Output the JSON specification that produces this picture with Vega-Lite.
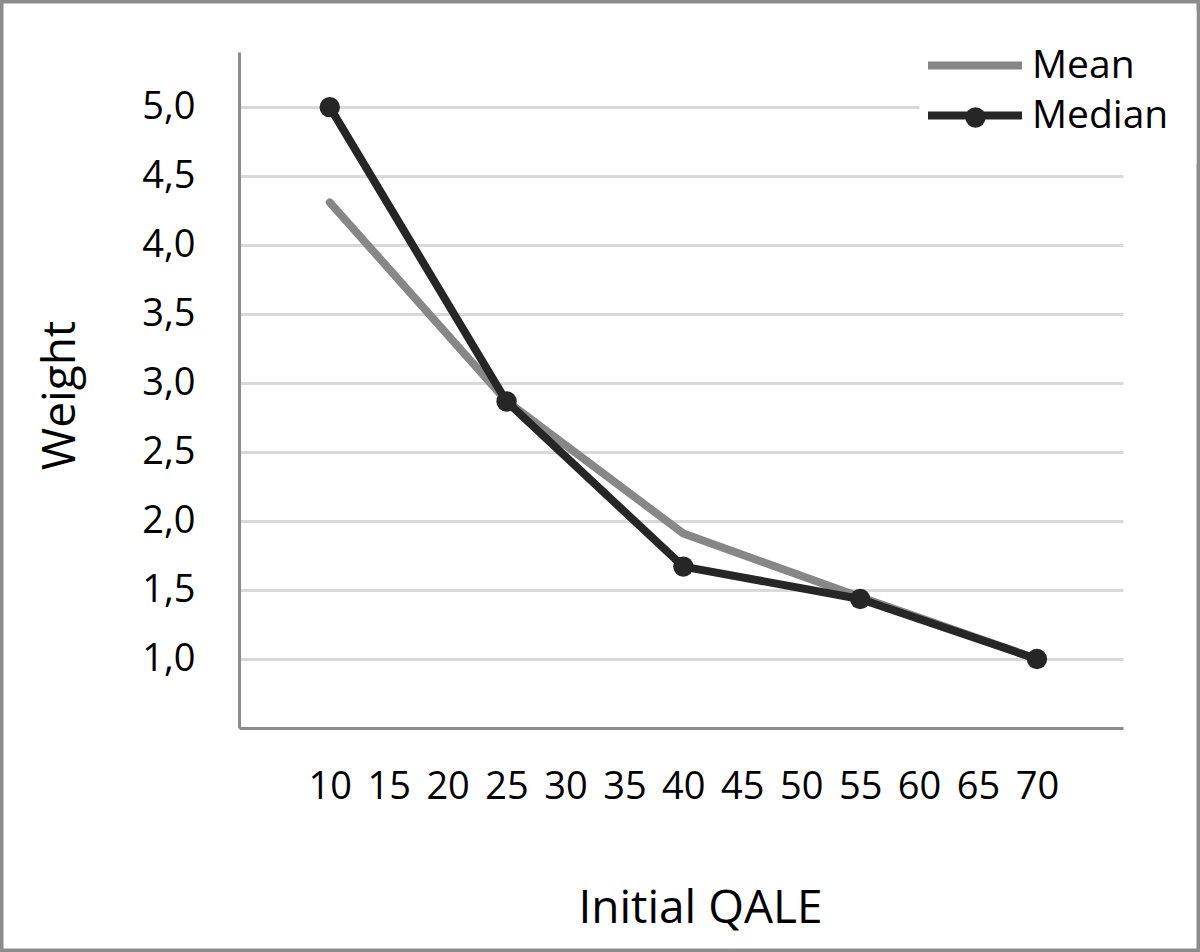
{
  "$schema": "https://vega.github.io/schema/vega-lite/v6.json",
  "width": 1200,
  "height": 952,
  "autosize": "none",
  "padding": 0,
  "background": "white",
  "config": {
    "font": "Open Sans",
    "view": {"stroke": "#8c8c8c", "strokeWidth": 7}
  },
  "data": {
    "values": [
      {"series": "Mean", "qale": 10, "weight": 4.31},
      {"series": "Mean", "qale": 25, "weight": 2.87},
      {"series": "Mean", "qale": 40, "weight": 1.91},
      {"series": "Mean", "qale": 55, "weight": 1.45},
      {"series": "Mean", "qale": 70, "weight": 1.0},
      {"series": "Median", "qale": 10, "weight": 5.0},
      {"series": "Median", "qale": 25, "weight": 2.867},
      {"series": "Median", "qale": 40, "weight": 1.67},
      {"series": "Median", "qale": 55, "weight": 1.435},
      {"series": "Median", "qale": 70, "weight": 1.0}
    ]
  },
  "encoding": {
    "x": {
      "field": "qale",
      "type": "quantitative",
      "scale": {"domain": [2.3, 77.3], "range": [239, 1123], "nice": false, "zero": false},
      "axis": {
        "orient": "bottom",
        "offset": -224,
        "values": [10, 15, 20, 25, 30, 35, 40, 45, 50, 55, 60, 65, 70],
        "grid": false,
        "ticks": false,
        "domainColor": "#8c8c8c",
        "domainWidth": 3,
        "labelFontSize": 38,
        "labelColor": "#000000",
        "labelPadding": 40,
        "labelFlush": false,
        "labelOverlap": false,
        "title": "Initial QALE",
        "titleFontSize": 46,
        "titleFontWeight": "normal",
        "titleColor": "#000000",
        "titleX": 700,
        "titleY": 180,
        "titleBaseline": "middle",
        "titleAnchor": null
      }
    },
    "y": {
      "field": "weight",
      "type": "quantitative",
      "scale": {"domain": [0.5, 5.4], "range": [728, 52], "nice": false, "zero": false},
      "axis": {
        "orient": "left",
        "offset": -239,
        "values": [1, 1.5, 2, 2.5, 3, 3.5, 4, 4.5, 5],
        "grid": true,
        "gridColor": "#d9d9d9",
        "gridWidth": 3,
        "ticks": false,
        "domainColor": "#8c8c8c",
        "domainWidth": 3,
        "labelFontSize": 38,
        "labelColor": "#000000",
        "labelPadding": 44,
        "labelExpr": "replace(format(datum.value, '.1f'), '.', ',')",
        "title": "Weight",
        "titleFontSize": 46,
        "titleFontWeight": "normal",
        "titleColor": "#000000",
        "titleX": -179,
        "titleY": 395,
        "titleAngle": -90,
        "titleBaseline": "middle"
      }
    }
  },
  "layer": [
    {
      "mark": {"type": "line", "strokeWidth": 8, "strokeCap": "round", "strokeJoin": "round"},
      "encoding": {
        "color": {
          "field": "series",
          "type": "nominal",
          "scale": {"domain": ["Mean", "Median"], "range": ["#878787", "#262626"]},
          "legend": {
            "orient": "none",
            "legendX": 919.5,
            "legendY": 10,
            "title": null,
            "padding": 28,
            "fillColor": "white",
            "symbolType": "M-2,0H2",
            "symbolSize": 2209,
            "symbolStrokeWidth": 8,
            "labelFontSize": 39,
            "labelColor": "#000000",
            "labelOffset": 29.5,
            "rowPadding": 2
          }
        }
      }
    },
    {
      "transform": [{"filter": "datum.series === 'Median'"}],
      "mark": {"type": "point", "filled": true, "size": 415, "color": "#262626", "opacity": 1},
      "encoding": {
        "shape": {
          "field": "series",
          "type": "nominal",
          "scale": {"domain": ["Median"], "range": ["circle"]},
          "legend": {
            "orient": "none",
            "legendX": 965,
            "legendY": 107,
            "title": null,
            "padding": 0,
            "symbolSize": 415,
            "symbolFillColor": "#262626",
            "symbolStrokeWidth": 0,
            "symbolOpacity": 1,
            "labelExpr": "''",
            "labelFontSize": 1
          }
        }
      }
    }
  ]
}
